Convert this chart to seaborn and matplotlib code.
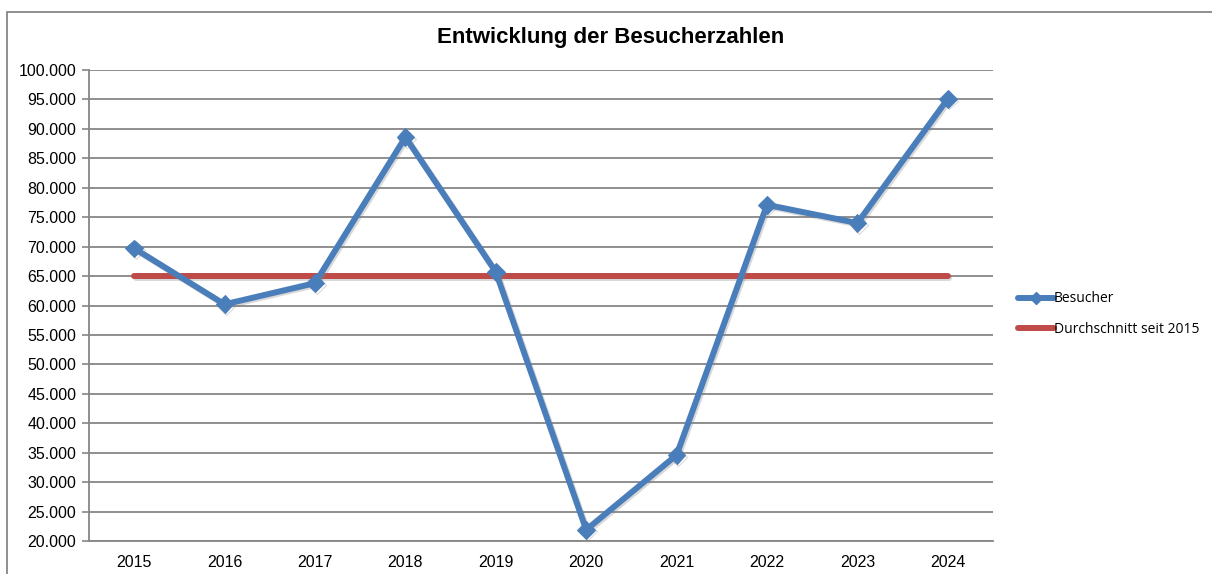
import matplotlib.pyplot as plt
import matplotlib.patheffects as pe
from matplotlib.patches import Rectangle
from matplotlib.lines import Line2D
import seaborn as sns
import pandas as pd

# Daten
jahre = ['2015', '2016', '2017', '2018', '2019', '2020', '2021', '2022', '2023', '2024']
besucher = [69700, 60200, 63800, 88600, 65700, 21900, 34600, 77100, 74000, 95100]
durchschnitt = [65000, 65000, 65000, 65000, 65000, 65000, 65000, 65000, 65000, 65000]
y_ticks = list(range(20000, 100001, 5000))

df = pd.DataFrame({'Jahr': jahre, 'Besucher': besucher, 'Durchschnitt': durchschnitt})

sns.set_style("white")
plt.rcParams['font.family'] = ['Liberation Sans', 'DejaVu Sans']
plt.rcParams['text.color'] = 'black'
plt.rcParams['xtick.labelcolor'] = 'black'
plt.rcParams['ytick.labelcolor'] = 'black'

blau = '#4a7ebb'
rot = '#be4b48'
grau = '#868686'

fig = plt.figure(figsize=(12.12, 5.74), dpi=100)
ax = fig.add_axes([89 / 1212, 1 - 541 / 574, (993 - 89) / 1212, (541 - 70) / 574])

shadow = [pe.SimpleLineShadow(offset=(1.2, -1.2), alpha=0.3, shadow_color='#7f7f7f'), pe.Normal()]

sns.lineplot(data=df, x='Jahr', y='Durchschnitt', ax=ax, color=rot, linewidth=4.3,
             solid_capstyle='round', zorder=3)
sns.lineplot(data=df, x='Jahr', y='Besucher', ax=ax, color=blau, linewidth=4.3,
             marker='D', markersize=9, markeredgecolor=blau, zorder=4)
for ln in ax.lines:
    ln.set_path_effects(shadow)

ax.set_xlim(-0.5, len(jahre) - 0.5)
ax.set_ylim(20000, 100000)
ax.set_yticks(y_ticks)
ax.set_yticklabels([f"{v:,}".replace(',', '.') for v in y_ticks], fontsize=11.5)
ax.set_xticks(range(len(jahre)))
ax.set_xticklabels(jahre, fontsize=11.5)
ax.set_xticks([i - 0.5 for i in range(len(jahre) + 1)], minor=True)
ax.tick_params(axis='x', which='major', length=0, pad=10)
ax.tick_params(axis='x', which='minor', length=9, direction='inout', color=grau, width=1.2)
ax.tick_params(axis='y', length=5, direction='out', color=grau, width=1.2, pad=4, left=True)
ax.set_xlabel('')
ax.set_ylabel('')

ax.grid(axis='y', color=grau, linewidth=1.3)
ax.set_axisbelow(True)
for s in ['top', 'right']:
    ax.spines[s].set_visible(False)
for s in ['left', 'bottom']:
    ax.spines[s].set_color(grau)
    ax.spines[s].set_linewidth(1.3)

# Legende
handles = [Line2D([], [], color=blau, linewidth=4.3, marker='D', markersize=6),
           Line2D([], [], color=rot, linewidth=4.3)]
fig.legend(handles, ['Besucher', 'Durchschnitt seit 2015'], loc='center left',
           bbox_to_anchor=(1005 / 1212, 1 - 314 / 574), frameon=False,
           prop={'family': 'Open Sans', 'size': 10}, handlelength=2.6,
           handletextpad=0.0, labelspacing=1.1)

fig.text(611 / 1212, 1 - 38 / 574, 'Entwicklung der Besucherzahlen', ha='center', va='center',
         fontsize=16, fontweight='bold', color='black')

# Rahmen
fig.patches.append(Rectangle((7 / 1212, -0.1), 1.2, 1 - 11.5 / 574 + 0.1, transform=fig.transFigure,
                             fill=False, edgecolor=grau, linewidth=1.3))

fig.savefig('out.png', dpi=100)
